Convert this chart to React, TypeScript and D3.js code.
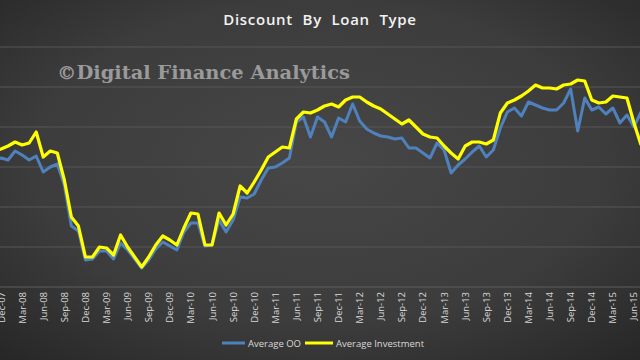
import React from "react";
import * as d3 from "d3";

// monthly categories, Nov-07 .. Jul-15
const months: string[] = d3
  .timeMonth.range(new Date(2007, 10, 1), new Date(2015, 7, 1))
  .map(d3.timeFormat("%b-%y"));

// tick labels every quarter from Dec-07
const tickLabels: string[] = months.filter((_, i) => i % 3 === 1);

const averageOO = [
  0.635, 0.645, 0.635, 0.68, 0.66, 0.635, 0.655, 0.575, 0.6, 0.615, 0.51, 0.305, 0.28,
  0.135, 0.14, 0.18, 0.18, 0.14, 0.22, 0.185, 0.14, 0.095, 0.135, 0.19, 0.225,
  0.205, 0.185, 0.275, 0.32, 0.32, 0.205, 0.21, 0.335, 0.275, 0.335, 0.45, 0.445,
  0.465, 0.535, 0.595, 0.6, 0.62, 0.645, 0.825, 0.85, 0.75, 0.85, 0.825, 0.75,
  0.845, 0.825, 0.915, 0.83, 0.79, 0.77, 0.755, 0.75, 0.74, 0.745, 0.695, 0.695,
  0.67, 0.645, 0.72, 0.685, 0.57, 0.61, 0.64, 0.675, 0.705, 0.65, 0.685, 0.795,
  0.875, 0.895, 0.855, 0.925, 0.91, 0.895, 0.885, 0.885, 0.92, 0.99, 0.78, 0.945,
  0.885, 0.9, 0.865, 0.895, 0.82, 0.86, 0.8, 0.875,
];

const averageInvestment = [
  0.68, 0.69, 0.705, 0.725, 0.71, 0.72, 0.775, 0.65, 0.68, 0.67, 0.535, 0.35, 0.305,
  0.15, 0.15, 0.2, 0.195, 0.16, 0.26, 0.2, 0.15, 0.1, 0.15, 0.21, 0.255,
  0.235, 0.21, 0.295, 0.37, 0.365, 0.21, 0.21, 0.37, 0.31, 0.365, 0.505, 0.47,
  0.525, 0.585, 0.65, 0.675, 0.7, 0.695, 0.84, 0.875, 0.87, 0.885, 0.905, 0.915,
  0.9, 0.935, 0.95, 0.95, 0.925, 0.905, 0.89, 0.865, 0.84, 0.815, 0.835, 0.8,
  0.765, 0.75, 0.745, 0.705, 0.67, 0.64, 0.705, 0.725, 0.725, 0.715, 0.735, 0.87,
  0.92, 0.935, 0.955, 0.98, 1.01, 0.995, 0.995, 0.99, 1.01, 1.015, 1.035, 1.03,
  0.935, 0.92, 0.925, 0.955, 0.95, 0.945, 0.82, 0.71,
];

const yTicks = [0, 0.2, 0.4, 0.6, 0.8, 1.0, 1.2];

const W = 640;
const H = 360;

export default function App() {
  const x = d3.scalePoint<string>().domain(months).range([-6, 641]);
  const y = d3.scaleLinear().domain([0, 1.2]).range([287, 47]);

  const line = d3
    .line<number>()
    .x((_, i) => x(months[i]) as number)
    .y((d) => y(d))
    .curve(d3.curveLinear);

  const font = "'Open Sans', 'Liberation Sans', sans-serif";

  return (
    <svg
      width={W}
      height={H}
      style={{ position: "absolute", left: 0, top: 0, display: "block" }}
    >
      <defs>
        <radialGradient id="bg" cx="50%" cy="45%" r="75%">
          <stop offset="0%" stopColor="#474747" />
          <stop offset="60%" stopColor="#3c3c3c" />
          <stop offset="100%" stopColor="#262626" />
        </radialGradient>
      </defs>
      <rect width={W} height={H} fill="url(#bg)" />

      {/* gridlines */}
      {yTicks.slice(1).map((t) => (
        <line key={t} x1={0} x2={W} y1={y(t)} y2={y(t)} stroke="#575757" strokeWidth={1} />
      ))}
      <line x1={0} x2={W} y1={y(0)} y2={y(0)} stroke="#5e5e5e" strokeWidth={1} />

      <text
        x={320}
        y={25}
        textAnchor="middle"
        fill="#f2f2f2"
        fontFamily={font}
        fontWeight={600}
        fontSize={15}
        style={{ wordSpacing: "5px", letterSpacing: "0.7px" }}
      >
        Discount By Loan Type
      </text>

      <text
        x={57}
        y={79}
        fill="#9a9a9a"
        fontFamily="'DejaVu Serif', serif"
        fontWeight="bold"
        fontSize={19}
        textLength={293}
        lengthAdjust="spacingAndGlyphs"
      >
        ©Digital Finance Analytics
      </text>

      <path d={line(averageOO) ?? ""} fill="none" stroke="#4f81bd" strokeWidth={3} strokeLinejoin="round" />
      <path d={line(averageInvestment) ?? ""} fill="none" stroke="#ffff00" strokeWidth={3.2} strokeLinejoin="round" />

      {/* x tick labels */}
      {tickLabels.map((m) => (
        <text
          key={m}
          transform={`translate(${(x(m) as number) + 3.5},292) rotate(-90)`}
          textAnchor="end"
          fill="#d9d9d9"
          fontFamily={font}
          fontSize={9.5}
        >
          {m}
        </text>
      ))}

      {/* legend */}
      <line x1={222} x2={245} y1={343} y2={343} stroke="#4f81bd" strokeWidth={3} />
      <text x={248} y={346.5} fill="#d9d9d9" fontFamily={font} fontSize={9.5}>
        Average OO
      </text>
      <line x1={305} x2={333} y1={343} y2={343} stroke="#ffff00" strokeWidth={3} />
      <text x={336} y={346.5} fill="#d9d9d9" fontFamily={font} fontSize={9.5}>
        Average Investment
      </text>
    </svg>
  );
}
